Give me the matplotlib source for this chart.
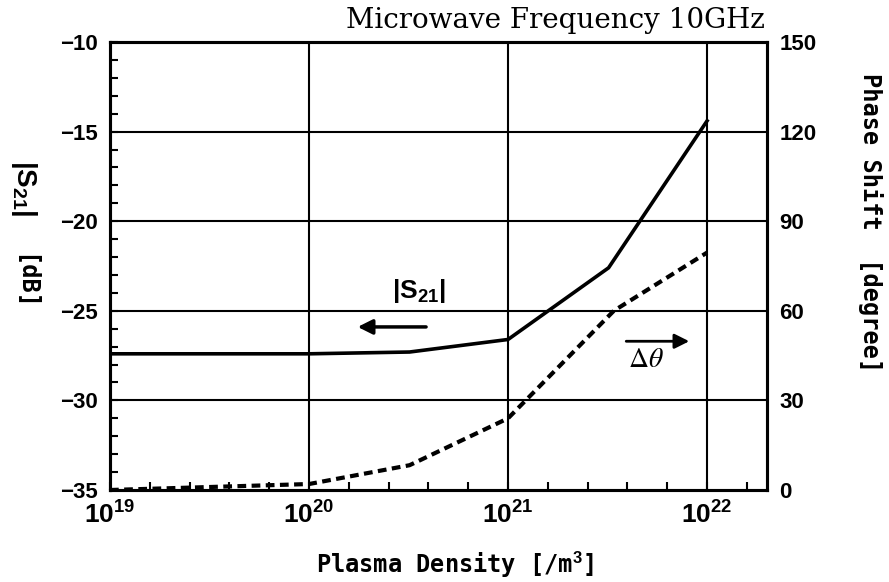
#!/usr/bin/env python3

import numpy as np
import matplotlib
matplotlib.use("Agg")
import matplotlib.pyplot as plt
from matplotlib.ticker import FixedLocator, NullFormatter

# data
density_s21 = [1e19, 1e20, 3.2e20, 1e21, 3.2e21, 1e22]
s21_db = [-27.4, -27.4, -27.3, -26.6, -22.6, -14.4]

density_phase = [1e19, 1e20, 3.2e20, 1e21, 3.4e21, 1e22]
phase_deg = [0.0, 2.0, 8.3, 24.0, 60.0, 79.5]

x_major = [1e19, 1e20, 1e21, 1e22]
x_major_labels = ["$10^{19}$", "$10^{20}$", "$10^{21}$", "$10^{22}$"]
y_left_ticks = [-35, -30, -25, -20, -15, -10]
y_right_ticks = [0, 30, 60, 90, 120, 150]

plt.rcParams["mathtext.fontset"] = "custom"
plt.rcParams["mathtext.rm"] = "Liberation Sans:bold"
plt.rcParams["mathtext.it"] = "Liberation Sans:bold"
plt.rcParams["mathtext.bf"] = "Liberation Sans:bold"
plt.rcParams["mathtext.default"] = "rm"

W, H = 889, 582
fig = plt.figure(figsize=(W / 100, H / 100), dpi=100)
ax = fig.add_axes([110 / W, 1 - 490 / H, (767 - 110) / W, (490 - 42) / H])
ax2 = ax.twinx()

# |S21| solid line (left axis)
ax.plot(density_s21, s21_db, color="black", lw=2.6, solid_joinstyle="miter", zorder=5)
ax.set_xscale("log")
ax.set_xlim(1e19, 2e22)
ax.set_ylim(-35, -10)

# phase shift dashed (right axis)
ax2.plot(density_phase, phase_deg, color="black", lw=3.0, linestyle=(0, (2.1, 1.3)),
         clip_on=False, zorder=5)
ax2.set_ylim(0, 150)

# grid
for x in x_major[1:]:
    ax.axvline(x, color="black", lw=1.5, zorder=1)
for y in y_left_ticks[1:-1]:
    ax.axhline(y, color="black", lw=1.5, zorder=1)

tick_font = dict(family="Liberation Sans", weight="bold", size=16)

ax.xaxis.set_major_locator(FixedLocator(x_major))
ax.set_xticklabels(x_major_labels, fontsize=19)
ax.xaxis.set_minor_locator(FixedLocator(10 ** np.arange(19.2, 22.4, 0.2)))
ax.xaxis.set_minor_formatter(NullFormatter())
ax.tick_params(axis="x", which="both", direction="in", length=6, width=1.5, pad=9,
               top=False)

ax.set_yticks(y_left_ticks)
ax.set_yticklabels([f"\u2212{abs(v)}" for v in y_left_ticks], **tick_font)
ax.yaxis.set_minor_locator(FixedLocator(np.arange(-35, -9, 1)))
ax.tick_params(axis="y", which="both", direction="in", length=6, width=1.5, pad=9)

ax2.set_yticks(y_right_ticks)
ax2.set_yticklabels([str(v) for v in y_right_ticks], **tick_font)
ax2.tick_params(axis="y", length=0, pad=9)

for a in (ax, ax2):
    for s in a.spines.values():
        s.set_linewidth(2.2)

# annotations
ax.text(3.55e20, -23.9, r"$|S_{21}|$", ha="center", va="center", fontsize=19)
ax.annotate("", xy=(1.7e20, -25.9), xytext=(4.0e20, -25.9),
            arrowprops=dict(arrowstyle="-|>", color="black", lw=2.5, mutation_scale=22))
ax.annotate("", xy=(8.4e21, -26.7), xytext=(3.8e21, -26.7),
            arrowprops=dict(arrowstyle="-|>", color="black", lw=2.0, mutation_scale=22))
ax.text(4.9e21, -27.7, r"$\Delta\mathit{\theta}$", ha="center", va="center",
        fontsize=20, math_fontfamily="stix")

# labels
label_font = dict(family="DejaVu Sans Mono", weight="bold", size=17)
fig.text(455 / W, 1 - 565 / H, "Plasma Density [/m$^3$]", ha="center", va="center",
         **label_font)
fig.text(24 / W, 1 - 188 / H, r"$|S_{21}|$", ha="center", va="center",
         rotation=-90, size=20)
fig.text(24 / W, 1 - 283 / H, "[dB]", ha="center", va="center",
         rotation=-90, family="DejaVu Sans Mono", weight="bold", size=17)
fig.text(870 / W, 1 - 223 / H, "Phase Shift  [degree]", ha="center", va="center",
         rotation=-90, **label_font)
fig.text(765 / W, 1 - 21 / H, "Microwave Frequency 10GHz", ha="right", va="center",
         family="DejaVu Serif", size=20)

fig.savefig("out.png", dpi=100)
